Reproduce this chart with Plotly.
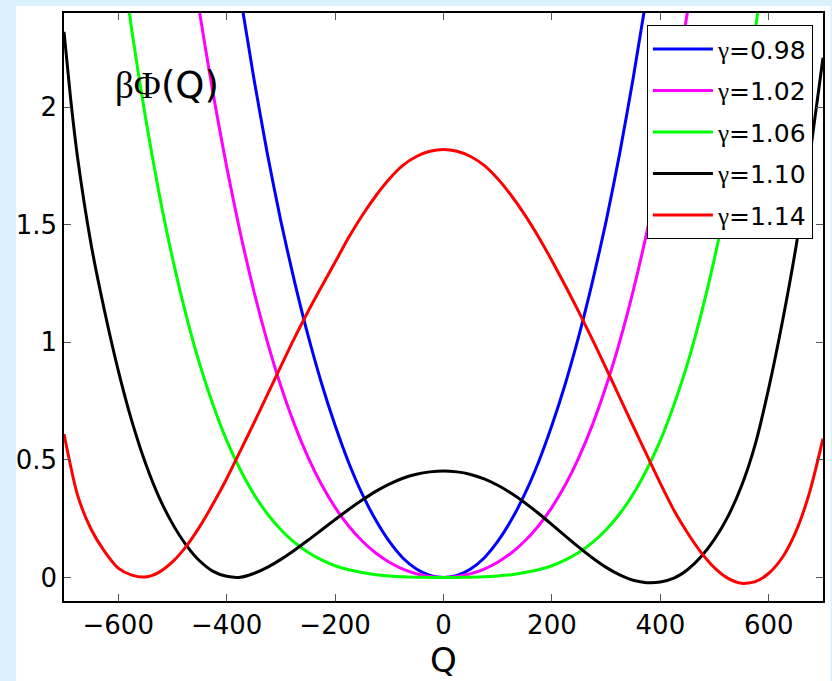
import plotly.graph_objects as go

# Free-energy profiles beta*Phi(Q) for several gamma values (Q on a 25-unit grid)
q_098 = [-375, -350, -325, -300, -275, -250, -225, -200, -175, -150, -125, -100, -75, -50, -25, 0,
         25, 50, 75, 100, 125, 150, 175, 200, 225, 250, 275, 300, 325, 350, 375]
phi_098 = [2.476, 2.125, 1.803, 1.515, 1.260, 1.030, 0.826, 0.647, 0.489, 0.355, 0.244, 0.153, 0.083, 0.036, 0.009, 0.0,
           0.009, 0.036, 0.083, 0.153, 0.244, 0.355, 0.489, 0.647, 0.826, 1.030, 1.260, 1.515, 1.803, 2.125, 2.476]

q_102 = [-475, -450, -425, -400, -375, -350, -325, -300, -275, -250, -225, -200, -175, -150, -125, -100, -75, -50, -25, 0,
         25, 50, 75, 100, 125, 150, 175, 200, 225, 250, 275, 300, 325, 350, 375, 400, 425, 450, 475]
phi_102 = [2.780, 2.404, 2.058, 1.746, 1.467, 1.220, 1.003, 0.814, 0.651, 0.512, 0.395, 0.298, 0.219, 0.155, 0.104, 0.065, 0.036, 0.016, 0.004, 0.0,
           0.004, 0.016, 0.036, 0.065, 0.104, 0.155, 0.219, 0.298, 0.395, 0.512, 0.651, 0.814, 1.003, 1.220, 1.467, 1.746, 2.058, 2.404, 2.780]

q_106 = [-600, -575, -550, -525, -500, -475, -450, -425, -400, -375, -350, -325, -300, -275, -250, -225, -200,
         -175, -150, -125, -100, -75, -50, -25, 0, 25, 50, 75, 100, 125, 150, 175, 200, 225, 250, 275, 300,
         325, 350, 375, 400, 425, 450, 475, 500, 525, 550, 575, 600]
phi_106 = [2.744, 2.327, 1.960, 1.638, 1.359, 1.118, 0.909, 0.733, 0.583, 0.459, 0.355, 0.271, 0.203, 0.149, 0.107, 0.0745, 0.050,
           0.033, 0.021, 0.012, 0.0067, 0.003, 0.0013, 0.0003, 0.0, 0.0003, 0.0013, 0.003, 0.0067, 0.012, 0.021, 0.033, 0.050, 0.0745, 0.107, 0.149, 0.203,
           0.271, 0.355, 0.459, 0.583, 0.733, 0.909, 1.118, 1.359, 1.638, 1.960, 2.327, 2.744]

q_110 = [-700, -688, -675, -650, -625, -600, -575, -550, -525, -500, -475, -450, -425, -400, -375, -350, -325,
         -300, -275, -250, -225, -200, -175, -150, -125, -100, -75, -50, -25, 0, 25, 50, 75, 100, 125, 150, 175,
         200, 225, 250, 275, 300, 325, 350, 375, 400, 425, 450, 475, 500, 525, 550, 575, 600, 625, 650, 675, 700]
phi_110 = [2.320, 2.040, 1.786, 1.416, 1.131, 0.881, 0.666, 0.488, 0.343, 0.229, 0.139, 0.071, 0.026, 0.005, 0.001, 0.017, 0.043,
           0.077, 0.116, 0.158, 0.202, 0.246, 0.289, 0.329, 0.366, 0.397, 0.422, 0.439, 0.449, 0.453, 0.449, 0.438, 0.419, 0.392, 0.358, 0.318, 0.273,
           0.225, 0.176, 0.128, 0.083, 0.043, 0.011, -0.012, -0.022, -0.019, -0.003, 0.033, 0.088, 0.163, 0.261, 0.391, 0.566, 0.806, 1.086, 1.403, 1.780, 2.210]

q_114 = [-700, -675, -650, -625, -600, -575, -550, -525, -500, -475, -450, -425, -400, -375, -350, -325, -300,
         -275, -250, -225, -200, -175, -150, -125, -100, -75, -50, -25, 0, 25, 50, 75, 100, 125, 150, 175, 200,
         225, 250, 275, 300, 325, 350, 375, 400, 425, 450, 475, 500, 525, 550, 575, 600, 625, 650, 675, 700]
phi_114 = [0.610, 0.350, 0.205, 0.110, 0.040, 0.010, 0.002, 0.022, 0.066, 0.131, 0.215, 0.313, 0.420, 0.537, 0.655, 0.776, 0.898,
           1.018, 1.130, 1.236, 1.340, 1.445, 1.539, 1.622, 1.694, 1.752, 1.790, 1.812, 1.820, 1.812, 1.790, 1.752, 1.695, 1.624, 1.542, 1.449, 1.347,
           1.239, 1.127, 1.010, 0.889, 0.766, 0.643, 0.521, 0.400, 0.286, 0.190, 0.107, 0.041, -0.004, -0.025, -0.018, 0.018, 0.085, 0.195, 0.360, 0.590]

gammas = ["0.98", "1.02", "1.06", "1.10", "1.14"]
colors = ["#0000ff", "#ff00ff", "#00ff00", "#000000", "#ff0000"]
series = [(q_098, phi_098), (q_102, phi_102), (q_106, phi_106), (q_110, phi_110), (q_114, phi_114)]

x_ticks = [-600, -400, -200, 0, 200, 400, 600]
x_ticktext = ["\u2212600", "\u2212400", "\u2212200", "0", "200", "400", "600"]
y_ticks = [0, 0.5, 1, 1.5, 2]
y_ticktext = ["0", "0.5", "1", "1.5", "2"]

SERIF = "'Liberation Serif'"
SANS = "DejaVu Sans"

fig = go.Figure()
for g, c, (q, phi) in zip(gammas, colors, series):
    fig.add_trace(go.Scatter(
        x=q, y=phi, mode="lines",
        line=dict(color=c, width=3, shape="spline", smoothing=0.7),
        name=f'<span style="font-family:{SERIF}">\u03b3</span>=' + g,
        legendgroup=g,
    ))

axis_common = dict(
    showgrid=False, zeroline=False,
    showline=True, linecolor="black", linewidth=1.5, mirror="ticks",
    ticks="inside", ticklen=7, tickcolor="#555555", tickwidth=1,
    tickfont=dict(family=SANS, size=26, color="black"),
)

fig.update_layout(
    width=832, height=681,
    margin=dict(l=64, r=7, t=13, b=80),
    paper_bgcolor="#daf0fb",
    plot_bgcolor="white",
    xaxis=dict(range=[-700, 700], tickvals=x_ticks, ticktext=x_ticktext,
               title=dict(text="Q", font=dict(family=SANS, size=34, color="black"), standoff=4),
               **axis_common),
    yaxis=dict(range=[-0.1, 2.4], tickvals=y_ticks, ticktext=y_ticktext, **axis_common),
    legend=dict(x=0.768, y=0.979, xanchor="left", yanchor="top",
                bgcolor="white", bordercolor="black", borderwidth=1,
                font=dict(family=SANS, size=25, color="black"),
                tracegroupgap=6, itemwidth=60),
    showlegend=True,
    shapes=[dict(type="rect", xref="paper", yref="paper",
                 x0=-0.0631, x1=1.01, y0=-0.14, y1=1.0119,
                 fillcolor="white", line=dict(width=0), layer="below")],
    annotations=[dict(x=-610, y=2.09, xref="x", yref="y", xanchor="left", yanchor="middle",
                      text=f'<span style="font-family:{SERIF}">\u03b2\u03a6</span>(Q)',
                      showarrow=False, font=dict(family=SANS, size=37, color="black"))],
)

fig.write_html("out.html")
